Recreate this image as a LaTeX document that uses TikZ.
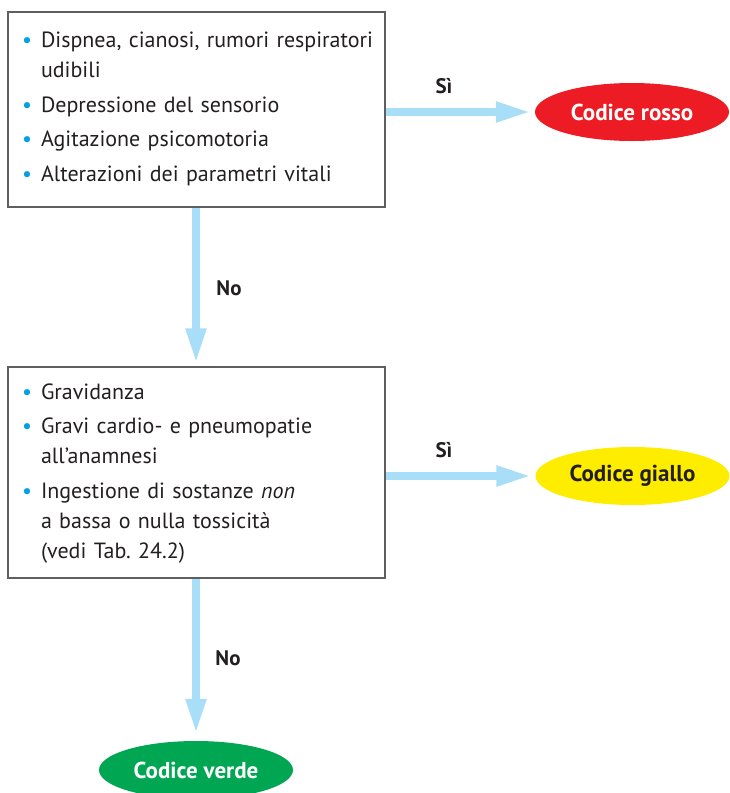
\documentclass[tikz,border=0pt]{standalone}
\usepackage{fontspec}
\setmainfont{PT Sans}
\usepackage{tikz}
\usetikzlibrary{shapes.geometric,arrows.meta}

\definecolor{puntoblu}{RGB}{0,160,227}
\definecolor{frecciablu}{RGB}{168,222,248}
\definecolor{bordogrigio}{RGB}{95,95,95}
\definecolor{rosso}{RGB}{237,28,36}
\definecolor{giallo}{RGB}{255,237,0}
\definecolor{verde}{RGB}{0,166,81}
\definecolor{testo}{RGB}{35,31,32}

\newcommand\voce[1]{\par\noindent\hangindent=19pt\hangafter=1\makebox[19pt][l]{\textcolor{puntoblu}{\textbullet}}#1\par}

\tikzset{
  riquadro/.style={rectangle,draw=bordogrigio,line width=1.3pt,minimum width=377pt,
    text width=349pt,inner xsep=14pt,align=left,text=testo,
    font=\fontsize{22}{30}\selectfont\setlength\parskip{4.5pt}},
  codice/.style={ellipse,minimum width=194pt,minimum height=58pt,inner sep=0pt,
    font=\bfseries\fontsize{23}{27}\selectfont},
  risposta/.style={text=testo,font=\bfseries\fontsize{21}{25}\selectfont},
  freccia/.style={draw=frecciablu,line width=8pt,-{Triangle[length=35pt,width=19pt]}}
}

\begin{document}
\begin{tikzpicture}[x=1pt,y=-1pt]
\useasboundingbox (0,0) rectangle (729,793);
\node at (196.5,109.5) [riquadro,minimum height=195pt] (box1) {%
\vspace*{-20pt}
\voce{\mbox{Dispnea, cianosi, rumori respiratori}\newline udibili}
\voce{Depressione del sensorio}
\voce{Agitazione psicomotoria}
\voce{Alterazioni dei parametri vitali}};
\node at (196.5,472.5) [riquadro,minimum height=211pt] (box2) {%
\vspace*{-17pt}
\voce{Gravidanza}
\voce{Gravi cardio- e pneumopatie\newline all'anamnesi}
\voce{Ingestione di sostanze \textit{non}\newline a bassa o nulla tossicità\newline (vedi Tab.\ 24.2)}};
\node at (632,112) [codice,fill=rosso,text=white] (rossoN) {Codice rosso};
\node at (632.5,476) [codice,fill=giallo,text=testo] (gialloN) {Codice giallo};
\node at (196,770) [codice,fill=verde,text=white] (verdeN) {Codice verde};
\draw[freccia,shorten >=4pt] (box1.east |- rossoN.center) -- (rossoN.west);
\draw[freccia,shorten >=4pt] (box2.east |- gialloN.center) -- (gialloN.west);
\draw[freccia,shorten >=3pt] (box1.south -| verdeN.center) -- (box2.north -| verdeN.center);
\draw[freccia,shorten >=7pt] (box2.south -| verdeN.center) -- (verdeN.north);
\node at (444,86) [risposta] (si1) {Sì};
\node at (444,450) [risposta] (si2) {Sì};
\node at (229,288) [risposta] (no1) {No};
\node at (228,658) [risposta] (no2) {No};
\end{tikzpicture}
\end{document}
